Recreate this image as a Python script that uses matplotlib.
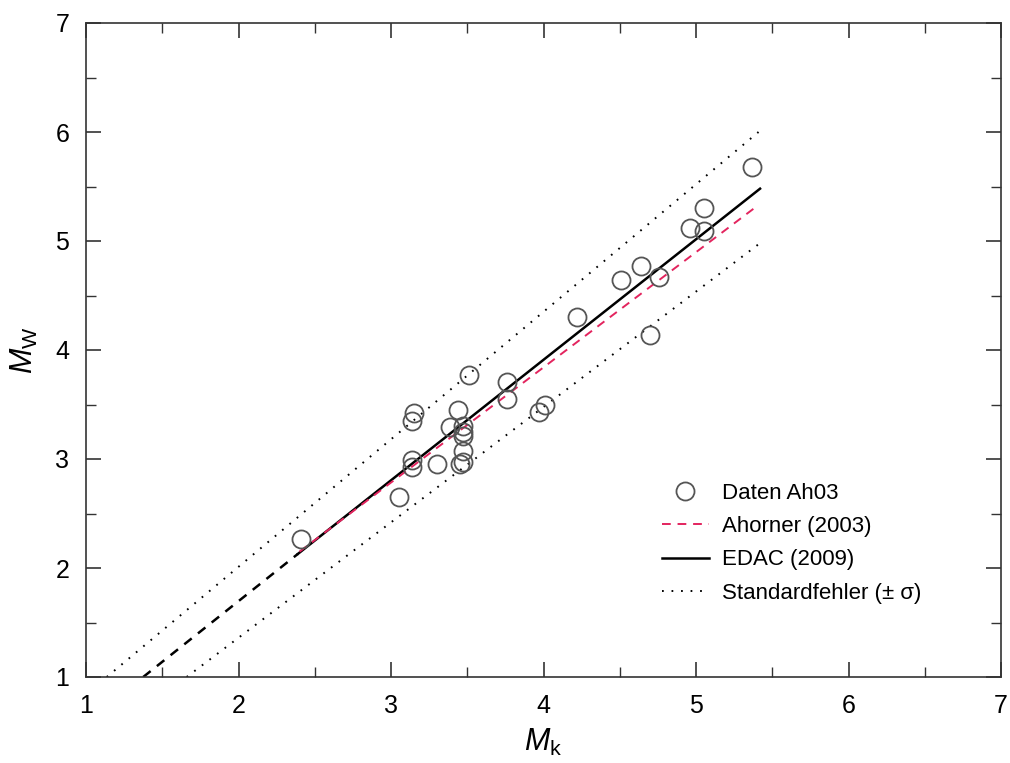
import matplotlib
matplotlib.use("Agg")
import matplotlib.pyplot as plt
import numpy as np

plt.rcParams['font.family'] = ['Liberation Sans', 'DejaVu Sans']
plt.rcParams['mathtext.fontset'] = 'custom'
plt.rcParams['mathtext.rm'] = 'Liberation Sans'
plt.rcParams['mathtext.it'] = 'Liberation Sans:italic'
plt.rcParams['mathtext.sf'] = 'Liberation Sans'

# Data points (Daten Ah03)
mk_data = [2.41, 3.05, 3.14, 3.14, 3.14, 3.15, 3.30, 3.39, 3.44, 3.45, 3.47,
           3.47, 3.47, 3.47, 3.47, 3.51, 3.76, 3.76, 3.97, 4.01, 4.22, 4.51,
           4.64, 4.76, 4.70, 4.96, 5.05, 5.05, 5.37]
mw_data = [2.27, 2.65, 2.99, 2.93, 3.35, 3.42, 2.95, 3.29, 3.45, 2.95, 2.97,
           3.07, 3.25, 3.21, 3.30, 3.77, 3.71, 3.55, 3.43, 3.50, 4.30, 4.64,
           4.77, 4.67, 4.14, 5.12, 5.30, 5.09, 5.68]

# Regression lines (endpoints)
edac_x = [2.39, 5.42]
edac_y = [2.13, 5.48]
edac_ext_x = [1.375, 2.39]
edac_ext_y = [1.00, 2.13]
ahorner_x = [2.40, 5.40]
ahorner_y = [2.15, 5.32]
sigma_up_x = [1.136, 5.41]
sigma_up_y = [1.00, 6.00]
sigma_lo_x = [1.66, 5.41]
sigma_lo_y = [1.00, 4.97]

fig = plt.figure(figsize=(10.10, 7.63), dpi=100)
ax = fig.add_axes([86/1010, 1 - 677/763, (1001 - 86)/1010, (677 - 23)/763])

red = '#e3245e'
ax.plot(sigma_up_x, sigma_up_y, color='black', lw=1.4, dashes=(0.9, 4.0),
        label='Standardfehler (± σ)')
ax.plot(sigma_lo_x, sigma_lo_y, color='black', lw=1.4, dashes=(0.9, 4.0))
ax.plot(edac_ext_x, edac_ext_y, color='black', lw=1.8, dashes=(3.8, 3.2))
ax.plot(edac_x, edac_y, color='black', lw=1.8, label='EDAC (2009)')
ax.plot(ahorner_x, ahorner_y, color=red, lw=1.4, dashes=(4.5, 3.5),
        label='Ahorner (2003)')
ax.plot(mk_data, mw_data, ls='none', marker='o', ms=13, mfc='none',
        mec='#555555', mew=1.3, label='Daten Ah03')

ax.set_xlim(1, 7)
ax.set_ylim(1, 7)
ax.set_xticks(np.arange(1, 8, 1))
ax.set_yticks(np.arange(1, 8, 1))
ax.set_xticks(np.arange(1.5, 7, 1), minor=True)
ax.set_yticks(np.arange(1.5, 7, 1), minor=True)
ax.tick_params(which='both', direction='in', top=True, right=True,
               color='#333333')
ax.tick_params(which='major', length=11, width=1.2, labelsize=18)
ax.tick_params(which='minor', length=7, width=1.0)
ax.tick_params(axis='x', which='major', pad=12)
ax.tick_params(axis='y', which='major', pad=12)
for s in ax.spines.values():
    s.set_color('#333333')
    s.set_linewidth(1.2)

ax.set_xlabel('$M_\\mathrm{k}$', fontsize=22, labelpad=7)
ax.set_ylabel('$M_\\mathrm{W}$', fontsize=22, labelpad=11)

handles, labels = ax.get_legend_handles_labels()
order = [3, 2, 1, 0]
ax.legend([handles[i] for i in order], [labels[i] for i in order],
          loc='upper left', bbox_to_anchor=(567/915, 1 - (474 - 23)/654),
          frameon=False, fontsize=16, handlelength=2.1, handletextpad=0.6,
          labelspacing=0.55, borderaxespad=0)

fig.savefig('out.png', dpi=100)
